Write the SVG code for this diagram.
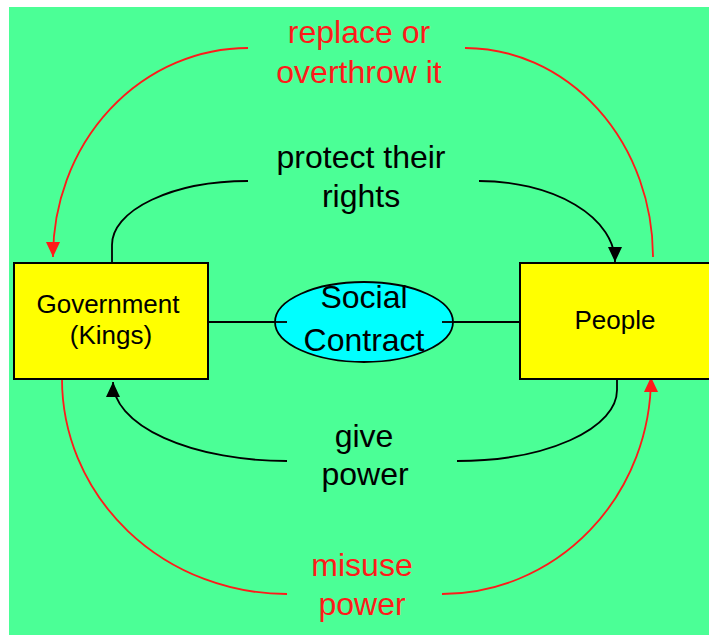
<svg xmlns="http://www.w3.org/2000/svg" width="709" height="635" viewBox="0 0 709 635">
<style>
.bg{fill:#4bff96}
.box{fill:#ffff00;stroke:#000;stroke-width:2}
.oval{fill:#00ffff;stroke:#000;stroke-width:1.8}
.c{fill:none;stroke-width:1.8}
.k{stroke:#000}
.r{stroke:#ff1a1a}
text{font-family:"Liberation Sans",Arial,sans-serif;text-anchor:middle}
.lbl{font-size:32px}
.node{font-size:26px;fill:#000}
.red{fill:#ff1a1a}
.blk{fill:#000}
</style>
<defs>
<marker id="ak" markerUnits="userSpaceOnUse" markerWidth="16" markerHeight="14" refX="15" refY="7" orient="auto">
<path d="M0,0 L15,7 L0,14 z" fill="#000"/>
</marker>
<marker id="ar" markerUnits="userSpaceOnUse" markerWidth="16" markerHeight="14" refX="15" refY="7" orient="auto">
<path d="M0,0 L15,7 L0,14 z" fill="#ff1a1a"/>
</marker>
</defs>
<rect x="0" y="0" width="709" height="635" fill="#fff"/>
<rect class="bg" x="9" y="7" width="700" height="628"/>
<g id="connectors">
<line class="c k" x1="208" y1="322" x2="287" y2="322"/>
<line class="c k" x1="442" y1="322" x2="520" y2="322"/>
<path class="c r" d="M248,48 A195,209 0 0 0 53,257" marker-end="url(#ar)"/>
<path class="c r" d="M465,48 A188,209 0 0 1 653,257"/>
<path class="c k" d="M248,181 A136,64 0 0 0 112,245 L112,263"/>
<path class="c k" d="M479,181 A136,81 0 0 1 615,262" marker-end="url(#ak)"/>
<path class="c k" d="M287,461 A174,79 0 0 1 113,382" marker-end="url(#ak)"/>
<path class="c k" d="M617,379 L617,390 A160,71 0 0 1 457,461"/>
<path class="c r" d="M62,379 A225,215 0 0 0 287,594"/>
<path class="c r" d="M442,594 A209,217 0 0 0 651,377" marker-end="url(#ar)"/>
</g>
<g id="government">
<rect class="box" x="14" y="263" width="194" height="116"/>
<text class="node" x="108" y="313">Government</text>
<text class="node" x="111" y="344">(Kings)</text>
</g>
<g id="people">
<rect class="box" x="520" y="263" width="200" height="116"/>
<text class="node" x="615" y="329">People</text>
</g>
<g id="social-contract">
<ellipse class="oval" cx="364" cy="322" rx="89" ry="40"/>
<line class="c k" x1="275" y1="322" x2="287" y2="322"/>
<line class="c k" x1="442" y1="322" x2="453" y2="322"/>
<text class="lbl blk" x="364" y="308">Social</text>
<text class="lbl blk" x="364" y="351">Contract</text>
</g>
<g id="labels">
<text class="lbl red" x="359" y="43">replace or</text>
<text class="lbl red" x="359" y="83">overthrow it</text>
<text class="lbl blk" x="361" y="168">protect their</text>
<text class="lbl blk" x="361" y="207">rights</text>
<text class="lbl blk" x="364" y="447">give</text>
<text class="lbl blk" x="365" y="485">power</text>
<text class="lbl red" x="362" y="576">misuse</text>
<text class="lbl red" x="362" y="615">power</text>
</g>
</svg>
